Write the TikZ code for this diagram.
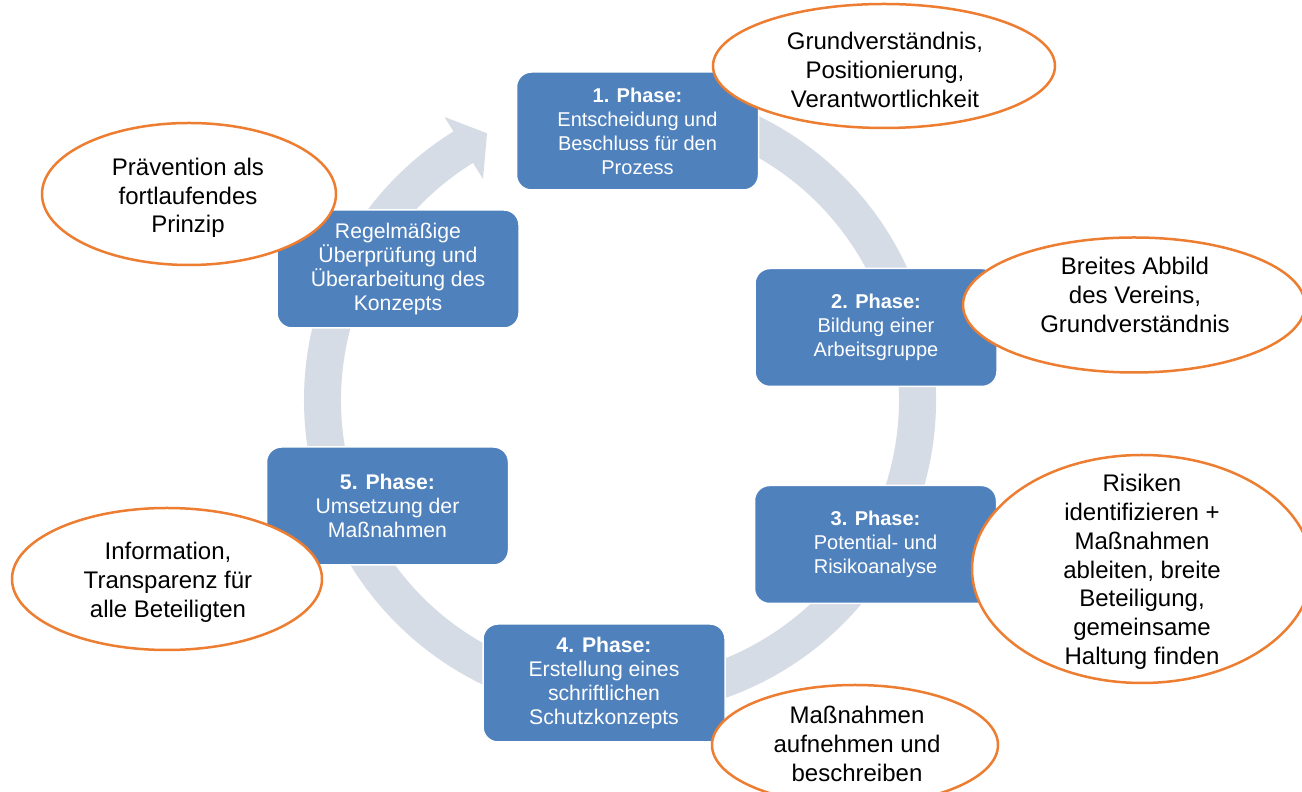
\documentclass[tikz,border=0pt]{standalone}
\usepackage{fontspec}
\setmainfont{Liberation Sans}
\usetikzlibrary{shapes.geometric}
\definecolor{phaseblue}{RGB}{79,129,189}
\definecolor{ringgray}{RGB}{214,220,229}
\definecolor{noteorange}{RGB}{237,125,49}
\tikzset{
  phasebox/.style={rectangle, rounded corners=15pt, fill=phaseblue, draw=white, line width=1.5pt,
    text=white, align=center, minimum width=242pt, minimum height=118pt, inner sep=0pt,
    font=\fontsize{20}{24}\selectfont},
  phasebig/.style={phasebox, font=\fontsize{21.2}{23.8}\selectfont},
  noteell/.style={ellipse, fill=white, draw=noteorange, line width=2.5pt, inner sep=0pt},
  notetext/.style={align=center, text=black, inner sep=0pt, font=\fontsize{24}{28.8}\selectfont},
}
\begin{document}
\begin{tikzpicture}[x=1pt,y=1pt]
\useasboundingbox (0,0) rectangle (1302,792);
\clip (0,0) rectangle (1302,792);
\fill[white] (0,0) rectangle (1302,792);
% circular arrow
\begin{scope}[shift={(620,392)}]
\fill[ringgray] (100:316) arc[start angle=100,end angle=-238.2,radius=316]
  -- (-238.2:333) -- (-243.5:298) -- (-238.2:260) -- (-238.2:279)
  arc[start angle=-238.2,end angle=100,radius=279] -- cycle;
\end{scope}
% phase boxes
\node[phasebox] (p1) at (637.5,661) {\textbf{1. Phase:}\\Entscheidung und\\Beschluss für den\\Prozess};
\node[phasebox] (p2) at (876,464.5) {\textbf{2. Phase:}\\Bildung einer\\Arbeitsgruppe};
\node[phasebox] (p3) at (875.5,247.5) {\textbf{3. Phase:}\\Potential- und\\Risikoanalyse};
\node[phasebig] (p4) at (604,109) {\textbf{4. Phase:}\\Erstellung eines\\schriftlichen\\Schutzkonzepts};
\node[phasebig] (p5) at (387.5,286) {\textbf{5. Phase:}\\Umsetzung der\\Maßnahmen};
\node[phasebig] (p6) at (398,523) {Regelmäßige\\Überprüfung und\\Überarbeitung des\\Konzepts};
% notes
\node[noteell, minimum width=342pt, minimum height=124pt] (e1) at (884,726) {};
\node[notetext] (t1) at (885,722) {Grundverständnis,\\Positionierung,\\Verantwortlichkeit};
\node[noteell, minimum width=342pt, minimum height=135pt] (e2) at (1134,487) {};
\node[notetext] (t2) at (1135,497) {Breites Abbild\\des Vereins,\\Grundverständnis};
\node[noteell, minimum width=340pt, minimum height=228pt] (e3) at (1142,223) {};
\node[notetext] (t3) at (1142,220) {Risiken\\identifizieren +\\Maßnahmen\\ableiten, breite\\Beteiligung,\\gemeinsame\\Haltung finden};
\node[noteell, minimum width=286pt, minimum height=120pt] (e4) at (855,47) {};
\node[notetext] (t4) at (857,48) {Maßnahmen\\aufnehmen und\\beschreiben};
\node[noteell, minimum width=310pt, minimum height=142pt] (e5) at (167,213) {};
\node[notetext] (t5) at (168,210) {Information,\\Transparenz für\\alle Beteiligten};
\node[noteell, minimum width=294pt, minimum height=142pt] (e6) at (189,598) {};
\node[notetext] (t6) at (188,594) {Prävention als\\fortlaufendes\\Prinzip};
\end{tikzpicture}
\end{document}
